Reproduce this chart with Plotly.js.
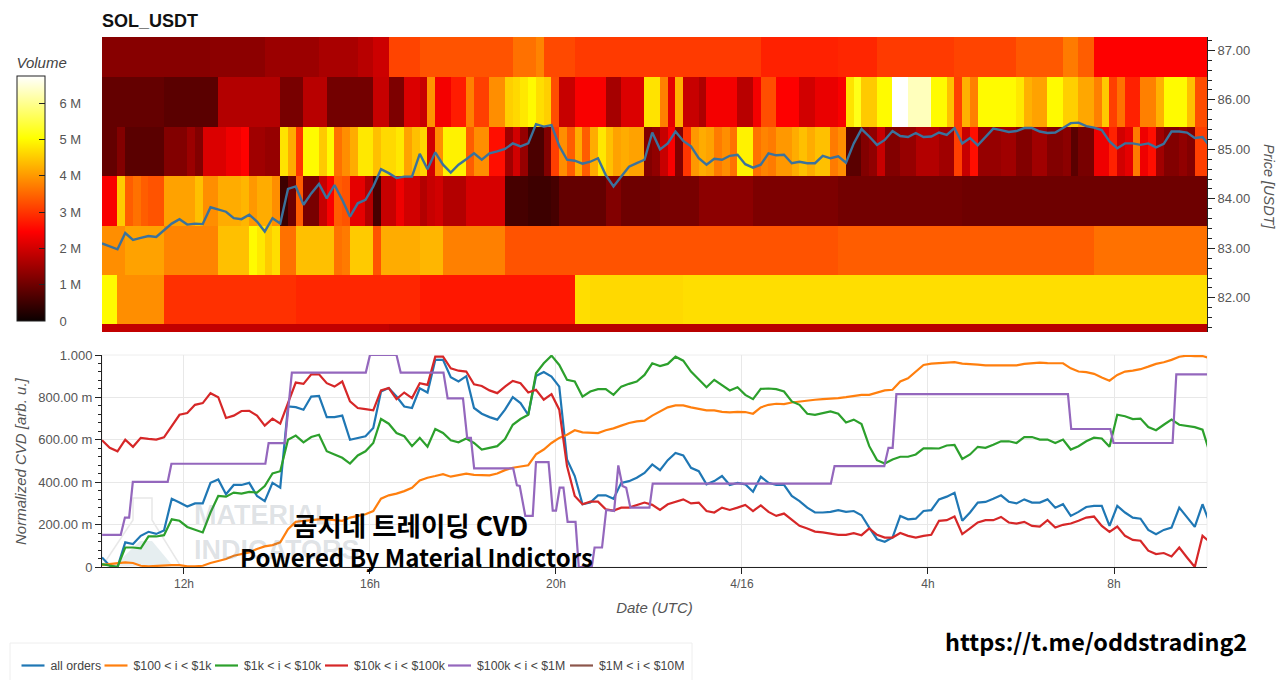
<!DOCTYPE html>
<html><head><meta charset="utf-8">
<script src="https://cdn.plot.ly/plotly-3.0.1.min.js"></script>
<style>html,body{margin:0;padding:0;background:#fff}#c{width:1280px;height:680px}</style>
</head><body><div id="c"></div>
<script>
const priceBins=[80.955,81.955,82.955,83.955,84.955,85.955,86.955];
const priceTicks=[82,83,84,85,86,87];
const vol87=[1.25,1.25,1.25,1.25,1.25,1.25,1.25,1.25,1.25,1.25,
1.25,1.25,1.25,1.25,1.3,1.3,1.3,1.3,1.3,1.3,
1.3,1.45,1.45,1.45,1.45,1.45,1.45,1.45,1.6,1.6,
1.6,1.6,1.6,1.75,1.75,1.95,1.95,3.15,3.15,3.15,
3.15,3.3,3.3,3.3,3.3,3.3,3.3,3.3,3.3,3.3,
3.3,3.3,3.3,3.6,3.6,3.6,3.8,3.2,3.2,3.2,
3.2,3.05,3.05,3.05,3.05,3.05,3.05,3.05,3.05,3.05,
3.05,3.05,3.05,3.05,3.05,3.05,3.05,3.05,3.05,3.05,
3.05,3.05,3.05,3.05,3.05,2.8,2.8,2.8,2.8,2.8,
2.8,2.8,2.8,2.8,2.8,2.85,2.85,2.85,2.85,2.85,
3.05,3.05,3.05,3.05,3.05,3.05,3.05,3.05,3.05,3.05,
3.15,3.15,3.15,3.15,3.15,3.15,3.15,3.15,3.35,3.35,
3.35,3.35,3.35,3.35,3.7,3.7,3.4,3.4,2.45,2.45,
2.45,2.45,2.45,2.45,2.45,2.45,2.45,2.45,2.45,2.45,2.45,2.45,2.45];
const vol86=[.9,.9,.9,.9,.9,.9,.9,.9,.8,.8,
.8,.8,.8,.8,.8,1.7,1.7,1.7,1.7,1.7,
1.7,1.7,1.7,1.1,1.1,1.1,1.75,1.75,1.75,1.05,
1.05,1.05,1.05,1.05,1.05,1.9,1.9,1.15,1.15,2.1,
2.1,1.9,3.95,2.35,2.35,2.75,2.75,3.75,3.1,3.1,
3.9,3.9,4.55,4.65,4.8,5,4.7,4.55,3.25,1.9,
1.9,2.4,2.4,2.4,2.4,1.55,1.55,2.1,2.1,2.1,
4.75,4.75,3.75,2.2,4.25,1.9,1.9,1.65,2.35,2.35,
2.35,2.35,1.75,1.75,2.35,3.25,3.25,2.45,2.45,2.45,
2,2,2.25,2.25,2.25,2.4,4.75,5.2,4.5,4.5,
5,5,6.75,6.75,6.3,6.3,6.3,5,5,4.4,
3.1,4.25,3.75,5,5,5,5,5,4.8,4.25,
4.1,4.1,5,5,4.55,4.55,4.15,4.15,3.75,4.5,
3.1,3.6,2.8,2.8,3.75,3.75,4.25,5,5,5,4.4,3.25,3.25];
const vol85=[.9,.9,1.2,.8,.8,.8,.8,.8,1.2,1.2,
1.2,1.45,1.2,2.1,2.1,2.1,2.3,2.3,2.47,1.5,
1.5,1.4,1.4,4.75,4.2,3,5,5,4.5,5,
3.6,3.9,4.2,4.8,4.8,4.4,4.65,4.65,4.8,4.1,
4.4,4.6,2,3.9,4.9,4.9,4.9,3.4,3.9,3.9,
2.6,2.6,1.5,2,1.4,.65,.65,1.2,3.1,3.9,
3.4,4.2,3.4,4.2,4.8,4.4,4.1,4.2,4.1,4.1,
1.2,1.35,1.9,2.4,1.2,3,4,4.2,4.1,3.7,
3.9,3.6,4.9,4.9,3.6,3.8,3.7,4,4,4.2,
4.4,4.2,4.4,4.4,3.7,3.9,.8,.8,1.2,1.35,
1.9,1.2,1.2,1.4,1.4,1.7,1.7,1.7,1.5,1.5,
3.1,1.9,2.6,1.4,1.4,1.4,1.5,1.5,1.2,1.2,
1.5,1.5,1.2,1.2,1.3,.8,1.1,1.1,2.3,2.3,
2.8,2,2.2,3.7,2.3,2.6,1.5,1.2,1.2,1.35,1.2,3.1,3.1];
const vol84=[2.4,2.4,4.5,3.4,3.6,3.4,3.3,3.3,4.1,4.1,
4.1,4.1,4.4,3.9,3.9,4.2,4.2,4.2,4.3,4,
4.2,4.2,3.9,.5,1,3.4,1.1,1.1,1.9,2.4,
3.4,3.3,2.2,2.2,1.7,.6,1.9,1.9,2.3,2,
2,1.7,1.9,2,1.7,1.7,1.7,2.05,2.05,2.05,
2.05,2.05,.6,.6,.6,.5,.5,.5,.6,.9,
.9,.9,.9,.9,.9,1.2,1.2,1,1,1,
1,1,1.1,1.1,1.1,1.1,1.1,1.3,1.3,1.3,
1.3,1.3,1.3,1.3,1.15,1.15,1.15,1.15,1.15,1.15,
1.15,1.15,1.15,1.15,1.15,1.05,1.05,1.05,1.05,1.05,
1.05,1.05,1.05,1.05,1.05,1.05,1.05,1.05,1.05,1.05,
1.05,1,1,1,1,1,1,1,1,1,
1,1,1,1,1,1,1,1,1,1,
1,1,1,1,1,1,1,1,1,1,1,1,1];
const vol83=[3.9,3.9,3.9,4.1,4.1,4.1,4.1,4.1,3.8,3.8,
3.8,3.8,3.8,3.8,3.8,4.4,4.4,4.4,4.4,5,
4.8,4.5,4.7,3.6,3.6,4.4,4.4,4.4,4.4,4.4,
3.6,3.7,4.5,4.5,4.5,3.3,4.2,4.2,4.2,4.2,
4.2,4.3,4.3,4.3,3.75,3.75,3.75,3.75,3.75,3.75,
3.75,3.75,3.3,3.3,3.3,3.3,3.3,3.3,3.3,3.3,
3.3,3.3,3.3,3.3,3.3,3.3,3.3,3.3,3.3,3.3,
3.3,3.3,3.3,3.3,3.3,3.3,3.3,3.3,3.3,3.3,
3.3,3.3,3.3,3.3,3.3,3.3,3.3,3.3,3.3,3.3,
3.3,3.3,3.3,3.3,3.3,3.4,3.4,3.4,3.4,3.4,
3.4,3.4,3.4,3.4,3.4,3.4,3.4,3.4,3.4,3.4,
3.4,3.4,3.4,3.4,3.4,3.4,3.4,3.4,3.4,3.4,
3.4,3.4,3.4,3.4,3.4,3.4,3.4,3.4,3.6,3.6,
3.6,3.6,3.6,3.6,3.6,3.6,3.6,3.6,3.6,3.6,3.6,3.6,3.6];
const vol82=[5,5,3.9,3.9,3.9,3.9,3.9,3.9,2.95,2.95,
2.95,2.95,2.95,2.95,2.95,2.95,2.95,2.95,2.95,2.95,
2.95,2.95,2.95,2.95,2.95,2.85,2.85,2.85,2.85,2.85,
2.85,2.85,2.85,2.85,2.85,2.85,2.85,2.85,2.85,2.85,
2.85,2.7,2.7,2.7,2.7,2.7,2.7,2.7,2.7,2.7,
2.7,2.7,2.7,2.7,2.7,2.7,2.7,2.7,2.7,2.7,
2.7,4.7,4.7,4.65,4.65,4.65,4.65,4.65,4.65,4.65,
4.65,4.65,4.65,4.65,4.65,4.7,4.7,4.7,4.7,4.7,
4.7,4.7,4.7,4.7,4.7,4.7,4.7,4.7,4.7,4.7,
4.7,4.7,4.7,4.7,4.7,4.7,4.7,4.7,4.7,4.7,
4.7,4.7,4.7,4.7,4.7,4.7,4.7,4.7,4.7,4.7,
4.7,4.7,4.7,4.7,4.7,4.7,4.7,4.7,4.7,4.7,
4.7,4.7,4.7,4.7,4.7,4.7,4.7,4.7,4.7,4.7,
4.7,4.7,4.7,4.7,4.7,4.7,4.7,4.7,4.7,4.7,4.7,4.7,4.7];
const vol81=[1.85,1.85,1.85,1.85,1.85,1.85,1.85,1.85,1.85,1.85,
1.85,1.85,1.85,1.85,1.85,1.85,1.85,1.85,1.85,1.85,
1.85,1.85,1.85,1.85,1.85,1.85,1.85,1.85,1.85,1.85,
1.85,1.85,1.85,1.85,1.85,1.85,1.85,1.75,1.75,1.75,
1.75,1.75,1.75,1.75,1.75,1.75,1.75,1.75,1.75,1.75,
1.75,1.75,1.75,1.75,1.75,1.75,1.75,1.75,1.75,1.75,
1.75,1.75,1.75,1.75,1.75,1.75,1.75,1.75,1.75,1.75,
1.75,1.75,1.75,1.75,1.75,1.75,1.75,1.75,1.75,1.75,
1.75,1.75,1.75,1.75,1.75,1.75,1.75,1.75,1.75,1.75,
1.75,1.75,1.75,1.75,1.75,1.75,1.75,1.75,1.75,1.75,
1.75,1.75,1.75,1.75,1.75,1.75,1.75,1.75,1.75,1.75,
1.75,1.75,1.75,1.75,1.75,1.75,1.75,1.75,1.75,1.75,
1.75,1.75,1.75,1.75,1.75,1.75,1.75,1.75,1.75,1.75,
1.75,1.75,1.75,1.75,1.75,1.75,1.75,1.75,1.75,1.75,1.75,1.75,1.75];

const price=[83.10,83.04,82.98,83.31,83.17,83.21,83.25,83.23,83.37,83.50,
83.59,83.48,83.50,83.49,83.83,83.78,83.74,83.61,83.59,83.68,
83.54,83.34,83.61,83.50,84.20,84.25,83.88,84.11,84.30,84.01,
84.28,83.98,83.64,83.91,83.98,84.25,84.60,84.52,84.42,84.45,
84.45,84.91,84.60,84.94,84.69,84.53,84.69,84.80,84.92,84.79,
84.92,84.96,85.01,85.12,85.06,85.12,85.51,85.46,85.49,85.07,
84.79,84.77,84.71,84.75,84.82,84.48,84.25,84.45,84.65,84.72,
84.79,85.34,85.00,85.12,85.36,85.17,85.06,84.82,84.69,84.81,
84.79,84.87,84.89,84.70,84.63,84.69,84.92,84.88,84.89,84.72,
84.75,84.72,84.72,84.87,84.82,84.86,84.73,85.12,85.41,85.26,
85.09,85.19,85.37,85.27,85.25,85.33,85.25,85.26,85.34,85.29,
85.43,85.12,85.23,85.08,85.26,85.42,85.39,85.35,85.37,85.43,
85.43,85.36,85.33,85.34,85.43,85.53,85.54,85.47,85.44,85.39,
85.16,85.02,85.12,85.12,85.09,85.12,85.04,85.11,85.36,85.36,85.34,85.23,85.25,85.05];

const cvdAll=[.045,.006,0,.116,.108,.147,.166,.156,.172,.322,
.304,.285,.30,.30,.397,.413,.343,.387,.387,.397,
.335,.311,.397,.374,.757,.754,.742,.804,.807,.707,
.707,.714,.60,.609,.617,.656,.828,.844,.804,.757,
.75,.843,.823,.977,.977,.895,.875,.90,.75,.723,
.707,.695,.742,.801,.773,.718,.901,.92,.898,.851,
.507,.429,.296,.304,.338,.338,.322,.397,.405,.421,
.444,.484,.457,.504,.538,.526,.468,.452,.39,.405,
.429,.387,.397,.39,.355,.426,.397,.387,.387,.335,
.311,.28,.257,.257,.26,.268,.26,.264,.244,.186,
.131,.119,.139,.241,.225,.228,.264,.268,.319,.332,
.35,.218,.257,.304,.307,.322,.338,.308,.30,.319,
.304,.304,.319,.28,.296,.241,.26,.283,.288,.288,
.194,.288,.257,.233,.228,.175,.155,.175,.186,.28,.233,.189,.296,.20];
const cvd100=[.01,.014,.019,.022,.019,.006,.003,.006,.009,.009,
.009,.003,.003,.006,.019,.03,.038,.053,.061,.069,
.085,.097,.103,.116,.178,.213,.218,.222,.225,.225,
.221,.218,.233,.241,.249,.264,.322,.338,.346,.358,
.374,.408,.421,.429,.438,.426,.432,.44,.435,.432,
.432,.441,.457,.468,.474,.48,.531,.554,.585,.609,
.624,.645,.635,.632,.632,.645,.654,.667,.679,.687,
.69,.714,.734,.753,.762,.762,.753,.746,.739,.739,
.732,.729,.732,.731,.723,.753,.765,.77,.768,.776,
.781,.786,.789,.792,.793,.797,.801,.808,.812,.812,
.823,.833,.836,.875,.89,.922,.953,.959,.961,.962,
.966,.959,.958,.955,.951,.951,.951,.95,.951,.958,
.961,.964,.962,.961,.961,.937,.922,.919,.911,.894,
.879,.906,.922,.926,.933,.945,.958,.966,.977,.992,.997,.995,.995,.985];
const cvd1k=[.014,.006,0,.092,.092,.088,.144,.144,.15,.225,
.218,.189,.175,.163,.257,.335,.332,.351,.346,.354,
.351,.382,.441,.452,.60,.62,.588,.613,.624,.546,
.531,.515,.488,.526,.546,.585,.698,.676,.632,.617,
.57,.609,.567,.651,.632,.598,.588,.606,.585,.554,
.562,.57,.604,.671,.698,.718,.914,.961,.997,.953,
.883,.875,.804,.828,.839,.839,.812,.851,.864,.875,
.906,.961,.948,.958,.992,.973,.922,.886,.848,.883,
.859,.833,.848,.812,.792,.84,.842,.839,.828,.781,
.765,.723,.718,.726,.734,.723,.682,.695,.674,.57,
.504,.488,.507,.52,.52,.531,.56,.56,.559,.573,
.576,.51,.531,.567,.562,.577,.593,.593,.585,.613,
.613,.601,.601,.585,.601,.554,.57,.593,.61,.606,
.567,.718,.711,.698,.70,.66,.645,.671,.695,.671,.667,.66,.648,.53];
const cvd10k=[.598,.562,.546,.601,.567,.609,.604,.601,.612,.664,
.718,.726,.765,.773,.82,.801,.703,.714,.736,.737,
.714,.667,.70,.676,.773,.87,.864,.909,.909,.867,
.851,.875,.781,.75,.745,.739,.833,.844,.792,.823,
.797,.867,.859,.992,.992,.937,.926,.922,.862,.854,
.833,.82,.851,.878,.867,.823,.836,.789,.815,.742,
.476,.335,.296,.308,.308,.272,.266,.28,.28,.293,
.304,.293,.269,.296,.308,.319,.30,.304,.264,.257,
.28,.269,.28,.293,.264,.291,.26,.241,.252,.225,
.194,.182,.167,.163,.158,.152,.152,.16,.15,.182,
.152,.139,.139,.16,.147,.139,.147,.152,.218,.221,
.238,.155,.182,.21,.221,.221,.236,.21,.205,.213,
.194,.191,.221,.186,.199,.205,.218,.233,.238,.194,
.166,.191,.147,.128,.124,.077,.061,.066,.05,.092,.045,0,.147,.116];
const cvd100kHours=[10.24,10.64,10.73,10.82,10.90,11.65,11.73,13.75,13.82,14.17,14.32,15.91,16.0,16.57,16.66,17.58,17.67,18.0,18.09,18.17,18.24,19.08,19.16,19.22,19.34,19.5,19.57,19.84,19.93,20.0,20.08,20.16,20.25,20.42,20.49,20.77,20.83,20.99,21.08,21.25,21.34,21.43,21.51,21.6,22.01,22.08,25.91,25.99,27.06,27.15,27.24,27.32,31.01,31.08,31.92,31.99,33.26,33.34,34.0];
const cvd100k=[.152,.152,.233,.233,.402,.402,.487,.487,.584,.584,.917,.917,1,1,.917,.917,.795,.795,.609,.609,.465,.465,.385,.382,.241,.241,.495,.495,.266,.266,.374,.374,.213,.213,0,0,.092,.092,.269,.264,.479,.382,.374,.28,.28,.393,.393,.476,.476,.562,.562,.815,.815,.651,.651,.585,.585,.909,.909];
const legendNames=['all orders','$100 < i < $1k','$1k < i < $10k','$10k < i < $100k','$100k < i < $1M','$1M < i < $10M'];
const lineColors=['#1f77b4','#ff7f0e','#2ca02c','#d62728','#9467bd','#8c564b'];
const xTickVals=[12,16,20,24,28,32];
const xTickText=['12h','16h','20h','4/16','4h','8h'];
const cvdTickVals=[0,.2,.4,.6,.8,1];
const cvdTickText=['0','200.00 m','400.00 m','600.00 m','800.00 m','1.000'];
const volTickVals=[0,1,2,3,4,5,6];
const volTickText=['0','1 M','2 M','3 M','4 M','5 M','6 M'];

const startHour=10.237, stepHour=1/6;
const binCenters=vol87.map((_,i)=>startHour+(i+.5)*stepHour);
const lineHours=price.map((_,i)=>startHour+i*stepHour);
const font="Liberation Sans, Arial, sans-serif";
const cjk="'Noto Sans CJK KR', sans-serif";
const py=v=>1-v/680, pxp=v=>(v-102)/1105;
const cvdTrace=(y,i,x)=>({type:'scatter',mode:'lines',x:x||lineHours,y,name:legendNames[i],xaxis:'x2',yaxis:'y2',line:{color:lineColors[i],width:2.2}});

const traces=[
 {type:'heatmap',x:binCenters,y:priceBins,z:[vol81,vol82,vol83,vol84,vol85,vol86,vol87],xaxis:'x',yaxis:'y',zmin:0,zmax:6.75,zsmooth:false,hoverinfo:'skip',
  colorscale:[[0,'#0b0000'],[.365,'#ff0000'],[.746,'#ffff00'],[1,'#ffffff']],
  colorbar:{xref:'container',yref:'container',x:17/1280,xanchor:'left',y:1-54/680,yanchor:'top',lenmode:'pixels',len:267,thicknessmode:'pixels',thickness:28,xpad:0,ypad:0,
   outlinecolor:'#222',outlinewidth:1,ticks:'inside',ticklen:6,tickcolor:'#222',tickvals:volTickVals,ticktext:volTickText.map(t=>'\u00a0\u00a0\u00a0'+t),tickfont:{family:font,size:13,color:'#555'},
   title:{text:'<i>Volume</i>',side:'top',font:{family:font,size:15,color:'#444'}}}},
 {type:'scatter',mode:'lines',x:lineHours,y:price,xaxis:'x',yaxis:'y',showlegend:false,line:{color:'#3b729c',width:2.4}},
 cvdTrace(cvdAll,0),cvdTrace(cvd100,1),cvdTrace(cvd1k,2),cvdTrace(cvd10k,3),cvdTrace(cvd100k,4,cvd100kHours),
 {type:'scatter',mode:'lines',x:[null],y:[null],name:legendNames[5],xaxis:'x2',yaxis:'y2',line:{color:lineColors[5],width:2.2}}
];
const wm={xref:'paper',yref:'paper',showarrow:false,xanchor:'left',yanchor:'middle',font:{family:font,size:27,color:'rgba(90,110,125,0.2)',weight:700}};
const note=(x,y,text,size)=>({xref:'paper',yref:'paper',showarrow:false,x:pxp(x),y:py(y),xanchor:'center',yanchor:'middle',text:'<b>'+text+'</b>',font:{family:cjk,size,color:'#000'}});
const axisTitle=(x,y,text,size,angle)=>({xref:'paper',yref:'paper',showarrow:false,x:pxp(x),y:py(y),xanchor:'center',yanchor:'middle',textangle:angle,text:'<i>'+text+'</i>',font:{family:font,size,color:'#555'}});
const layout={width:1280,height:680,paper_bgcolor:'#fff',plot_bgcolor:'#fff',margin:{l:102,r:73,t:0,b:0,autoexpand:false},showlegend:true,hovermode:false,font:{family:font},
 title:{text:'<b>SOL_USDT</b>',x:102/1280,xanchor:'left',xref:'container',y:1-21/680,yanchor:'middle',yref:'container',font:{family:font,size:18,color:'#111'}},
 xaxis:{domain:[0,1],range:[10.237,34],anchor:'y',visible:false,fixedrange:true},
 yaxis:{domain:[py(332),py(37)],range:[81.31,87.27],anchor:'x',side:'right',showgrid:false,zeroline:false,showline:true,linecolor:'#222',linewidth:1,ticks:'outside',ticklen:7,tickcolor:'#222',tickvals:priceTicks,tickformat:'.2f',tickfont:{size:13,color:'#555'},minor:{dtick:.2,ticks:'outside',ticklen:4,tickcolor:'#222',showgrid:false}},
 xaxis2:{domain:[0,1],range:[10.237,34],anchor:'y2',showgrid:true,gridcolor:'#e8e8e8',gridwidth:1,zeroline:false,showline:true,linecolor:'#222',linewidth:1,ticks:'outside',ticklen:6,tickcolor:'#222',tickvals:xTickVals,ticktext:xTickText,tickfont:{size:12,color:'#555'},title:{text:'<i>Date (UTC)</i>',standoff:12,font:{size:15,color:'#555'}}},
 yaxis2:{domain:[py(567),py(355)],range:[0,1],anchor:'x2',showgrid:true,gridcolor:'#e8e8e8',gridwidth:1,zeroline:false,showline:true,linecolor:'#222',linewidth:1,ticks:'outside',ticklen:6,tickcolor:'#222',tickvals:cvdTickVals,ticktext:cvdTickText,tickfont:{size:13,color:'#555'},minor:{dtick:.04,ticks:'outside',ticklen:3,tickcolor:'#222',showgrid:false}},
 legend:{orientation:'h',xref:'container',yref:'container',x:14/1280,xanchor:'left',y:1-651/680,yanchor:'top',bgcolor:'rgba(0,0,0,0)',borderwidth:0,font:{family:font,size:12.3,color:'#444'},itemwidth:30},
 shapes:[
  {type:'rect',xref:'paper',yref:'paper',x0:pxp(10),x1:pxp(692),y0:py(690),y1:py(643),line:{color:'#eeeeee',width:1},layer:'below'},
  {type:'rect',xref:'paper',yref:'paper',x0:0,x1:1,y0:py(567),y1:py(355),line:{color:'#eeeeee',width:1},layer:'below'},
  {type:'path',xref:'paper',yref:'paper',layer:'below',line:{color:'#e8e8e8',width:1.5},fillcolor:'rgba(0,0,0,0)',path:
   ['M',pxp(133),py(498),'L',pxp(152),py(498),'L',pxp(152),py(520),'L',pxp(180),py(565),'L',pxp(103),py(565),'L',pxp(133),py(520),'Z'].join(' ')},
  {type:'path',xref:'paper',yref:'paper',layer:'below',line:{width:0},fillcolor:'#e6eef0',path:
   ['M',pxp(115),py(565),'L',pxp(140),py(541),'L',pxp(152),py(541),'L',pxp(172),py(565),'Z'].join(' ')}
 ],
 annotations:[
  Object.assign({},wm,{x:pxp(192),y:py(515),text:'MATERIAL'}),
  Object.assign({},wm,{x:pxp(192),y:py(550),text:'INDICATORS'}),
  note(410,524,'곰지네 트레이딩 CVD',26.5),
  note(416,556,'Powered By Material Indictors',24),
  note(1096,641,'https://t.me/oddstrading2',23.4),
  axisTitle(1269,187,'Price [USDT]',14.5,90),
  axisTitle(20,461,'Normalized CVD [arb. u.]',15,-90)
 ]};
const legendLineStart=[21.5,104.5,215,325,448,570];
Plotly.newPlot('c',traces,layout,{displayModeBar:false,staticPlot:true}).then(()=>{
 document.querySelectorAll('.legend .traces').forEach((g,i)=>{
  const m=/translate\(([^,]+),\s*([^)]+)\)/.exec(g.getAttribute('transform')||'');
  const y=m?m[2]:0;
  g.setAttribute('transform','translate('+(legendLineStart[i]-19)+','+y+')');
  g.querySelectorAll('.legendlines path, .js-line').forEach(p=>p.setAttribute('d','M5,0h23'));
  g.querySelectorAll('text').forEach(t=>{t.setAttribute('x',34);t.querySelectorAll('tspan').forEach(s=>{if(s.getAttribute('x'))s.setAttribute('x',34);});});
 });
});
</script></body></html>
